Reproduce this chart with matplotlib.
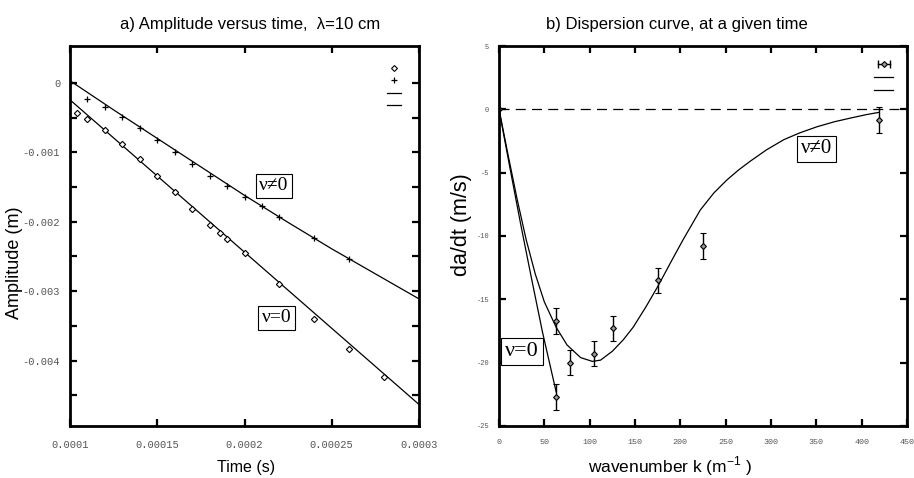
import matplotlib
matplotlib.use("Agg")
import matplotlib.pyplot as plt
from matplotlib.lines import Line2D
from matplotlib.legend_handler import HandlerLine2D, HandlerTuple

# ---------------- data: panel a ----------------
t_plus = [0.0001, 0.00011, 0.00012, 0.00013, 0.00014, 0.00015, 0.00016, 0.00017,
          0.00018, 0.00019, 0.0002, 0.00021, 0.00022, 0.00024, 0.00026]
a_plus = [0.0, -0.000235, -0.000355, -0.000494, -0.000657, -0.00082, -0.001003, -0.001175,
          -0.001338, -0.00149, -0.001645, -0.00178, -0.001938, -0.00224, -0.00253]

t_diam = [0.000104, 0.00011, 0.00012, 0.00013, 0.00014, 0.00015, 0.00016, 0.00017,
          0.00018, 0.000186, 0.00019, 0.0002, 0.00022, 0.00024, 0.00026, 0.00028]
a_diam = [-0.000437, -0.000523, -0.000686, -0.000878, -0.00109, -0.001338, -0.001578, -0.001813,
          -0.002043, -0.002163, -0.00225, -0.00245, -0.00289, -0.0034, -0.00383, -0.00423]

t_fit_visc = [0.0001, 0.000125, 0.00015, 0.000175, 0.0002, 0.000225, 0.00025, 0.000275, 0.0003]
a_fit_visc = [0.00003, -0.00039, -0.00080, -0.00121, -0.00162, -0.00201, -0.00239, -0.00275, -0.00311]
t_fit_inv = [0.0001, 0.0003]
a_fit_inv = [-0.000245, -0.00463]

a_xticks = [0.0001, 0.00015, 0.0002, 0.00025, 0.0003]
a_xlabels = ["0.0001", "0.00015", "0.0002", "0.00025", "0.0003"]
a_yticks = [0, -0.001, -0.002, -0.003, -0.004]
a_ylabels = ["0", "-0.001", "-0.002", "-0.003", "-0.004"]

# ---------------- data: panel b ----------------
k_pts = [0, 63, 63, 78.5, 105, 126, 175, 225, 419]
v_pts = [0, -16.7, -22.7, -20.0, -19.3, -17.3, -13.5, -10.8, -0.85]
v_err = [0, 1, 1, 1, 1, 1, 1, 1, 1]

k_inv = [0, 12, 24, 36, 48, 63]
v_inv = [0, -4.6, -9.1, -13.4, -17.6, -22.3]

k_visc = [0, 10, 20, 30, 40, 50, 63, 75, 90, 103, 112, 125, 137, 148, 162, 175, 190,
          203, 222, 237, 251, 264, 277, 295, 314, 332, 351, 370, 387, 405, 419]
v_visc = [0, -3.6, -7.1, -10.3, -13.0, -15.2, -17.2, -18.6, -19.6, -19.9, -19.8, -19.1, -18.2,
          -17.2, -15.6, -14.0, -12.0, -10.3, -7.95, -6.6, -5.6, -4.8, -4.1, -3.2, -2.4,
          -1.85, -1.37, -0.98, -0.7, -0.42, -0.24]

b_xticks = [0, 50, 100, 150, 200, 250, 300, 350, 400, 450]
b_yticks = [5, 0, -5, -10, -15, -20, -25]

# ---------------- figure ----------------
fig = plt.figure(figsize=(9.14, 4.78), dpi=100)
W, H = 914, 478
ax1 = fig.add_axes([70 / W, 1 - 426 / H, 349 / W, 380 / H])
ax2 = fig.add_axes([499 / W, 1 - 426 / H, 408 / W, 380 / H])

sans = ["Liberation Sans", "DejaVu Sans"]
mono = ["Liberation Mono", "DejaVu Sans Mono"]
serif = ["Liberation Serif", "DejaVu Serif"]
tickcol = "#555555"

for ax in (ax1, ax2):
    for s in ax.spines.values():
        s.set_linewidth(2.0)
    ax.tick_params(direction="in", top=True, right=True, width=1.6, length=5,
                   colors="k", labelcolor=tickcol)
    ax.tick_params(which="minor", direction="in", top=True, right=True, width=1.6, length=5)

# ---- panel a ----
ax1.plot(t_fit_visc, a_fit_visc, color="k", lw=0.9)
ax1.plot(t_fit_inv, a_fit_inv, color="k", lw=0.9)
ax1.plot(t_diam, a_diam, ls="none", marker="D", ms=3.2, mfc="white", mec="k", mew=0.8)
ax1.plot(t_plus, a_plus, ls="none", marker="+", ms=5, mec="k", mew=0.9)
ax1.set_xlim(0.0001, 0.0003)
ax1.set_ylim(-0.00494, 0.00053)
ax1.set_xticks(a_xticks)
ax1.set_xticklabels(a_xlabels, family=mono, fontsize=7.5)
ax1.set_yticks(a_yticks)
ax1.set_yticklabels(a_ylabels, family=mono, fontsize=7.5)
ax1.set_yticks([-0.0045, -0.0035, -0.0025, -0.0015, -0.0005], minor=True)
ax1.tick_params(axis="x", pad=10)
ax1.tick_params(axis="y", pad=7)
ax1.set_xlabel("Time (s)", family=sans, fontsize=11.5)
ax1.xaxis.set_label_coords(0.505, -0.09)
ax1.set_ylabel("Amplitude (m)", family=sans, fontsize=13)
ax1.yaxis.set_label_coords(-0.135, 0.43)

box = dict(boxstyle="square,pad=0.18", fc="white", ec="k", lw=0.8)
ax1.text(0.0002169, -0.00148, "ν≠0", family=serif, fontsize=14, ha="center", va="center", bbox=box)
ax1.text(0.0002185, -0.00338, "ν=0", family=serif, fontsize=14, ha="center", va="center", bbox=box)

hA = [Line2D([], [], ls="none", marker="D", ms=3.0, mfc="white", mec="k", mew=0.8),
      Line2D([], [], ls="none", marker="+", ms=5, mec="k", mew=0.9),
      Line2D([], [], color="k", lw=0.9),
      Line2D([], [], color="k", lw=0.9)]
ax1.legend(hA, ["", "", "", ""], loc="upper right", frameon=False, fontsize=8,
           handlelength=1.3, handletextpad=0.0, labelspacing=0.22,
           borderaxespad=1.4, borderpad=0.2)

# ---- panel b ----
ax2.axhline(0, color="k", lw=0.9, ls=(0, (8, 5)))
ax2.plot(k_inv, v_inv, color="k", lw=0.9)
ax2.plot(k_visc, v_visc, color="k", lw=0.9)
ax2.errorbar(k_pts, v_pts, yerr=v_err, fmt="D", ms=3.0, mfc="#999999", mec="k", mew=0.8,
             ecolor="k", elinewidth=1.0, capsize=2.5, capthick=1.0)
ax2.set_xlim(0, 450)
ax2.set_ylim(-25, 5)
ax2.set_xticks(b_xticks)
ax2.set_xticklabels([str(v) for v in b_xticks], family=mono, fontsize=6)
ax2.set_yticks(b_yticks)
ax2.set_yticklabels([str(v) for v in b_yticks], family=mono, fontsize=5)
ax2.tick_params(axis="x", pad=9)
ax2.tick_params(axis="y", pad=7)
ax2.set_xlabel("wavenumber k (m$^{\\mathregular{-1}}$ )", family=sans, fontsize=12.5)
ax2.xaxis.set_label_coords(0.42, -0.075)
ax2.set_ylabel("da/dt (m/s)", family=sans, fontsize=15.5)
ax2.yaxis.set_label_coords(-0.065, 0.53)

box2 = dict(boxstyle="square,pad=0.18", fc="white", ec="k", lw=0.8)
ax2.text(350, -3.13, "ν≠0", family=serif, fontsize=15, ha="center", va="center", bbox=box2)
ax2.text(25.4, -19.15, "ν=0", family=serif, fontsize=16, ha="center", va="center", bbox=box2)

h_eb_line = Line2D([], [], color="k", lw=1.0, marker="|", ms=6, mew=1.0)
h_eb_pt = Line2D([], [], ls="none", marker="D", ms=3.0, mfc="#999999", mec="k", mew=0.8)
hB = [(h_eb_line, h_eb_pt),
      Line2D([], [], color="k", lw=0.9),
      Line2D([], [], color="k", lw=0.9)]
ax2.legend(hB, ["", "", ""], loc="upper right", frameon=False, fontsize=8,
           handlelength=1.7, handletextpad=0.0, labelspacing=0.25,
           borderaxespad=1.05, borderpad=0.2,
           handler_map={h_eb_line: HandlerLine2D(numpoints=2),
                        h_eb_pt: HandlerLine2D(numpoints=1),
                        tuple: HandlerTuple(ndivide=1)})

# titles
fig.text(250 / W, 1 - 25 / H, "a) Amplitude versus time,  λ=10 cm", family=sans,
         fontsize=12, ha="center", va="center")
fig.text(677 / W, 1 - 25 / H, "b) Dispersion curve, at a given time", family=sans,
         fontsize=12, ha="center", va="center")

fig.savefig("out.png", dpi=100)
